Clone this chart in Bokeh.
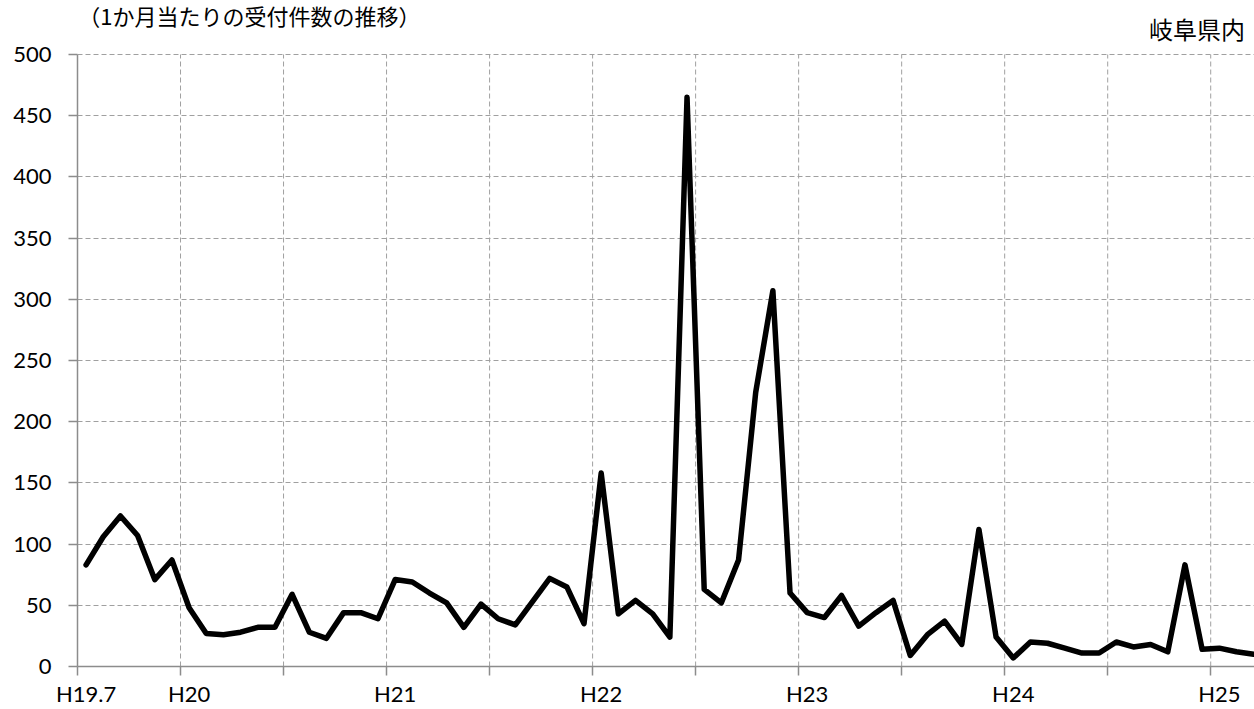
from bokeh.plotting import figure
from bokeh.models import FixedTicker, Range1d, Label
from bokeh.embed import file_html
from bokeh.resources import INLINE

# Monthly counts, H19.7 (Jul 2007) .. H25.3 (Mar 2013)
values = [83, 106, 123, 107, 71, 87, 48, 27, 26, 28, 32, 32,
          59, 28, 23, 44, 44, 39, 71, 69, 60, 52, 32, 51,
          39, 34, 53, 72, 65, 35, 158, 43, 54, 43, 24, 465,
          63, 52, 87, 224, 307, 60, 44, 40, 58, 33, 44, 54,
          9, 26, 37, 18, 112, 24, 7, 20, 19, 15, 11, 11,
          20, 16, 18, 12, 83, 14, 15, 12, 10]

tick_labels = ["H19.7", "H20", "H21", "H22", "H23", "H24", "H25"]
label_months = [0, 6, 18, 30, 42, 54, 66]      # category index of each label
grid_months = list(range(0, 67, 6))            # category boundaries with gridlines
y_ticks = list(range(0, 501, 50))
y_max = 500

title_text = "（1か月当たりの受付件数の推移）"
region_text = "岐阜県内"

x = [i + 0.5 for i in range(len(values))]

# frame spans the whole top band so that the captions can sit inside it
p = figure(width=1254, height=709, output_backend="svg", toolbar_location=None,
           title=None,
           x_range=Range1d(0, 68.55), y_range=Range1d(0, 544.1),
           min_border_left=77, min_border_right=0, min_border_top=0,
           min_border_bottom=43)
p.outline_line_color = None
p.background_fill_color = "white"
p.border_fill_color = "white"

grid_color = "#a0a0a0"
axis_color = "#8c8c8c"
font = "Lato"
jp_font = "Noto Sans CJK JP"

# x axis: labels centred in categories, tick marks at boundaries (minor ticks)
label_pos = [m + 0.5 for m in label_months]
p.xaxis.ticker = FixedTicker(ticks=label_pos, minor_ticks=grid_months)
p.xaxis.major_label_overrides = {pos: lab for pos, lab in zip(label_pos, tick_labels)}
p.xaxis.major_tick_line_color = None
p.xaxis.major_tick_out = 0
p.xaxis.major_tick_in = 0
p.xaxis.minor_tick_out = 9
p.xaxis.minor_tick_in = 0
p.xaxis.minor_tick_line_color = axis_color
p.xaxis.minor_tick_line_width = 1.5
p.xaxis.axis_line_color = axis_color
p.xaxis.axis_line_width = 1.5
p.xaxis.major_label_standoff = 4
p.xaxis.major_label_text_font = font
p.xaxis.major_label_text_font_size = "22px"
p.xaxis.major_label_text_color = "#000000"

p.yaxis.ticker = FixedTicker(ticks=y_ticks)
p.yaxis.bounds = (0, y_max)
p.yaxis.major_tick_out = 9
p.yaxis.major_tick_in = 0
p.yaxis.minor_tick_line_color = None
p.yaxis.major_tick_line_color = axis_color
p.yaxis.major_tick_line_width = 1.5
p.yaxis.axis_line_color = axis_color
p.yaxis.axis_line_width = 1.5
p.yaxis.major_label_standoff = 17
p.yaxis.major_label_text_font = font
p.yaxis.major_label_text_font_size = "22px"
p.yaxis.major_label_text_color = "#000000"

# horizontal grid from the axis ticker; vertical grid drawn up to the top value
p.xgrid.visible = False
p.ygrid.ticker = FixedTicker(ticks=y_ticks)
p.ygrid.grid_line_color = grid_color
p.ygrid.grid_line_dash = "5 3"
p.ygrid.grid_line_width = 1
p.segment(x0=grid_months, y0=[0] * len(grid_months),
          x1=grid_months, y1=[y_max] * len(grid_months),
          line_color=grid_color, line_dash="5 3", line_width=1)

p.line(x, values, line_color="black", line_width=5.5,
       line_join="round", line_cap="round")

p.add_layout(Label(x=0.05, y=531.9, text=title_text, text_font=jp_font,
                   text_font_size="22px", text_color="#000000",
                   text_baseline="middle", text_align="left"))
p.add_layout(Label(x=68.0, y=521.0, text=region_text, text_font=jp_font,
                   text_font_size="24px", text_color="#000000",
                   text_baseline="middle", text_align="right"))

open("out.html", "w").write(file_html(p, INLINE))
